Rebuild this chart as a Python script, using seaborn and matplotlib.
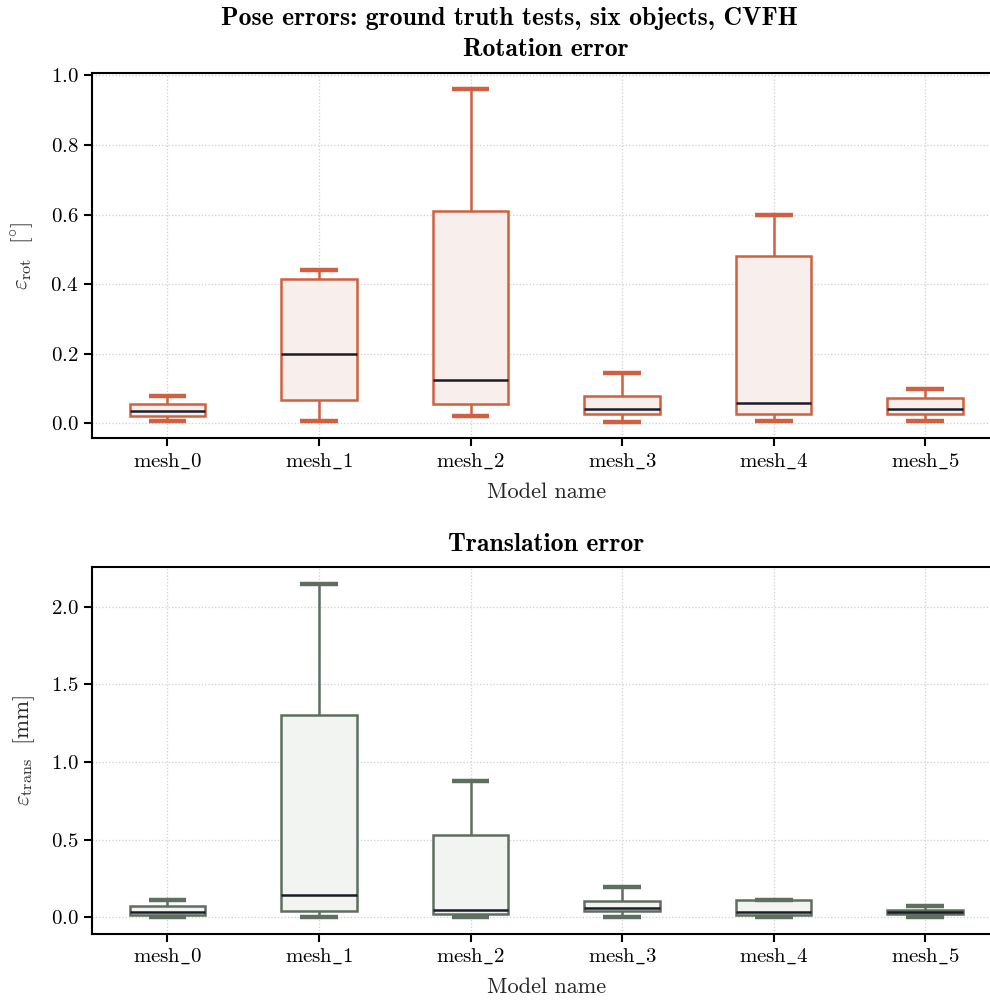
import numpy as np
import pandas as pd
import matplotlib
matplotlib.use("Agg")
import matplotlib.pyplot as plt
import seaborn as sns

# ---- data (five-number summaries: min, q1, median, q3, max)
models = ["mesh_0", "mesh_1", "mesh_2", "mesh_3", "mesh_4", "mesh_5"]
tick_labels = [r"$\mathrm{mesh\_0}$", r"$\mathrm{mesh\_1}$", r"$\mathrm{mesh\_2}$",
               r"$\mathrm{mesh\_3}$", r"$\mathrm{mesh\_4}$", r"$\mathrm{mesh\_5}$"]

rot_mesh_0 = [0.0075, 0.020, 0.035, 0.055, 0.079]
rot_mesh_1 = [0.0066, 0.066, 0.198, 0.416, 0.440]
rot_mesh_2 = [0.021, 0.056, 0.125, 0.610, 0.960]
rot_mesh_3 = [0.005, 0.028, 0.041, 0.078, 0.145]
rot_mesh_4 = [0.0066, 0.028, 0.058, 0.480, 0.600]
rot_mesh_5 = [0.0075, 0.028, 0.041, 0.073, 0.098]

trans_mesh_0 = [0.002, 0.017, 0.030, 0.069, 0.110]
trans_mesh_1 = [0.001, 0.039, 0.140, 1.300, 2.146]
trans_mesh_2 = [0.003, 0.021, 0.043, 0.526, 0.878]
trans_mesh_3 = [0.001, 0.039, 0.056, 0.103, 0.195]
trans_mesh_4 = [0.001, 0.017, 0.032, 0.112, 0.112]
trans_mesh_5 = [0.001, 0.018, 0.032, 0.045, 0.073]

rot_values = [rot_mesh_0, rot_mesh_1, rot_mesh_2, rot_mesh_3, rot_mesh_4, rot_mesh_5]
trans_values = [trans_mesh_0, trans_mesh_1, trans_mesh_2, trans_mesh_3, trans_mesh_4, trans_mesh_5]


def to_frame(values):
    rows = []
    for m, vals in zip(models, values):
        for v in vals:
            rows.append({"model": m, "value": v})
    return pd.DataFrame(rows)


df_rot = to_frame(rot_values)
df_trans = to_frame(trans_values)

# ---- style
sns.set_theme(style="ticks")
plt.rcParams.update({
    "font.family": ["cmr10"],
    "mathtext.fontset": "cm",
    "axes.formatter.use_mathtext": True,
    "axes.unicode_minus": False,
    "axes.edgecolor": "black",
    "axes.linewidth": 1.5,
    "xtick.color": "black",
    "ytick.color": "black",
    "xtick.major.width": 1.5,
    "ytick.major.width": 1.5,
    "xtick.major.size": 6,
    "ytick.major.size": 6,
})

fig = plt.figure(figsize=(9.9, 10.05), dpi=100)
ax1 = fig.add_axes([0.0926, 0.5639, 1.011 - 0.0926, 0.9277 - 0.5639])
ax2 = fig.add_axes([0.0926, 0.0710, 1.011 - 0.0926, 0.4355 - 0.0710])

median_color = "#1c1c28"
label_color = "#262626"


def draw(ax, df, edge, fill):
    sns.boxplot(
        data=df, x="model", y="value", order=models, ax=ax,
        whis=(0, 100), width=0.5, showfliers=False,
        boxprops=dict(facecolor=fill, edgecolor=edge, linewidth=1.8),
        whiskerprops=dict(color=edge, linewidth=1.8),
        capprops=dict(color=edge, linewidth=3.2, solid_capstyle="butt"),
        medianprops=dict(color=median_color, linewidth=1.8),
    )
    ax.set_axisbelow(True)
    ax.grid(True, axis="both", color="#cfcfcf", linestyle=":", linewidth=0.9)
    ax.set_xlim(-0.5, 5.5)
    ax.set_xticks(range(len(models)))
    ax.set_xticklabels(tick_labels)
    ax.tick_params(axis="both", labelsize=15, direction="out")
    ax.set_xlabel("Model name", fontsize=16, labelpad=8, color=label_color)
    for s in ["top", "left", "bottom", "right"]:
        ax.spines[s].set_visible(True)
        ax.spines[s].set_color("black")
        ax.spines[s].set_linewidth(1.5)


draw(ax1, df_rot, "#d0603f", "#f8efec")
draw(ax2, df_trans, "#5e6e5f", "#f2f4f1")

ax1.set_ylabel(r"$\varepsilon_{\mathrm{rot}}\ \ [^{\circ}]$", fontsize=16.5, labelpad=10,
               color=label_color)
ax2.set_ylabel(r"$\varepsilon_{\mathrm{trans}}\ \ [\mathrm{mm}]$", fontsize=16.5, labelpad=10,
               color=label_color)

ax1.set_title("Rotation error", fontsize=18.5, pad=12, family="cmb10", color="black")
ax2.set_title("Translation error", fontsize=18.5, pad=12, family="cmb10", color="black")
fig.text(0.515, 0.982, "Pose errors: ground truth tests, six objects, CVFH",
         ha="center", va="center", fontsize=18.5, family="cmb10", color="black")

fig.savefig("out.png", dpi=100)
